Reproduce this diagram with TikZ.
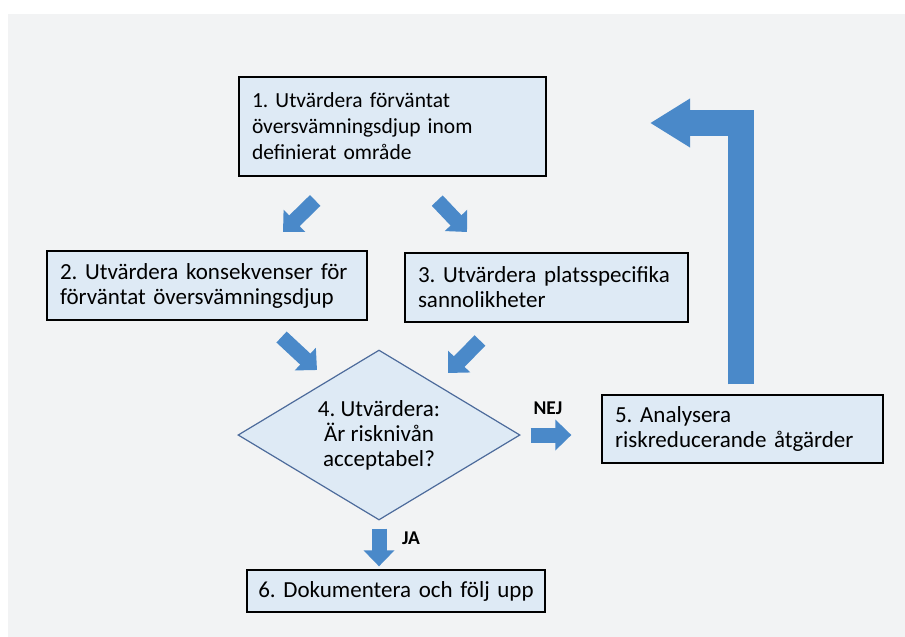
\documentclass[tikz,border=0pt]{standalone}
\usepackage{fontspec}
\usetikzlibrary{positioning,shapes.geometric,arrows.meta}
\newfontfamily\carlito{Carlito}
\definecolor{paper}{HTML}{F2F3F4}
\definecolor{boxfill}{HTML}{DEEAF5}
\definecolor{flowblue}{HTML}{4A89C9}
\definecolor{dialine}{HTML}{4D6B9B}

\begin{document}
\frenchspacing
\begin{tikzpicture}[x=1pt,y=-1pt,
  stepbox/.style={draw=black,line width=1.3pt,fill=boxfill,align=left,
    inner xsep=13pt,inner ysep=0pt,font=\carlito\fontsize{23}{25}\selectfont},
  decision/.style={diamond,draw=dialine,line width=1.2pt,fill=boxfill,
    minimum width=282pt,minimum height=170pt,aspect=1.66,inner sep=0pt,
    align=center,font=\carlito\fontsize{23}{25}\selectfont},
  flow/.style={draw=flowblue,line width=15pt,-{Triangle[length=16pt,width=30pt]}},
  loopflow/.style={draw=flowblue,line width=26pt,line join=miter,
    -{Triangle[length=40pt,width=46pt]}},
  lbl/.style={font=\carlito\bfseries\fontsize{19.5}{20}\selectfont}]
\useasboundingbox (0,0) rectangle (905,637);
\fill[white] (0,0) rectangle (905,637);
\fill[paper] (8,14) rectangle (905,637);

% steps
\node[stepbox,text width=281pt,minimum height=99pt,font=\carlito\fontsize{21.5}{26}\selectfont]
  (box1) at (392.5,126.5)
  {1. Utvärdera förväntat\\översvämningsdjup inom\\definierat område};
\node[stepbox,text width=294pt,minimum height=69pt] (box2) at (207,285.5)
  {2. Utvärdera konsekvenser för\\förväntat översvämningsdjup};
\node[stepbox,text width=257pt,minimum height=69pt] (box3) at (546.5,287.5)
  {3. Utvärdera platsspecifika\\sannolikheter};
\node[decision] (dia) at (379,435) {4. Utvärdera:\\Är risknivån\\acceptabel?};
\node[stepbox,text width=255pt,minimum height=68pt] (box5) at (742.5,429)
  {5. Analysera\\riskreducerande åtgärder};
\node[stepbox,align=center,inner xsep=7pt,text width=284pt,minimum height=42pt]
  (box6) at (396,591) {6. Dokumentera och följ upp};

% arrow ends
\coordinate (t12) at (283,232);
\coordinate (t13) at (467,232);
\coordinate (t24) at (317,370);
\coordinate (t34) at (448,373);
\coordinate (back) at (650,123);

\draw[flow,shorten <=34pt] ([xshift=-53pt]box1.south) -- (t12);
\draw[flow,shorten <=33pt] ([xshift=22pt]box1.south) -- (t13);
\draw[flow,shorten <=24pt] ([xshift=57pt]box2.south) -- (t24);
\draw[flow,shorten <=25pt] ([xshift=-49pt]box3.south) -- (t34);
\draw[flow,shorten <=10pt,shorten >=30pt] (dia.east) -- (dia.east -| box5.west);
\draw[flow,shorten <=8pt,shorten >=3pt] (dia.south) -- (dia.south |- box6.north);
\draw[loopflow,shorten <=10pt] ([xshift=-1.5pt]box5.north) |- (back);

\node[lbl] (nej) at (548,408) {NEJ};
\node[lbl] (ja) at (411,538) {JA};
\end{tikzpicture}
\end{document}
